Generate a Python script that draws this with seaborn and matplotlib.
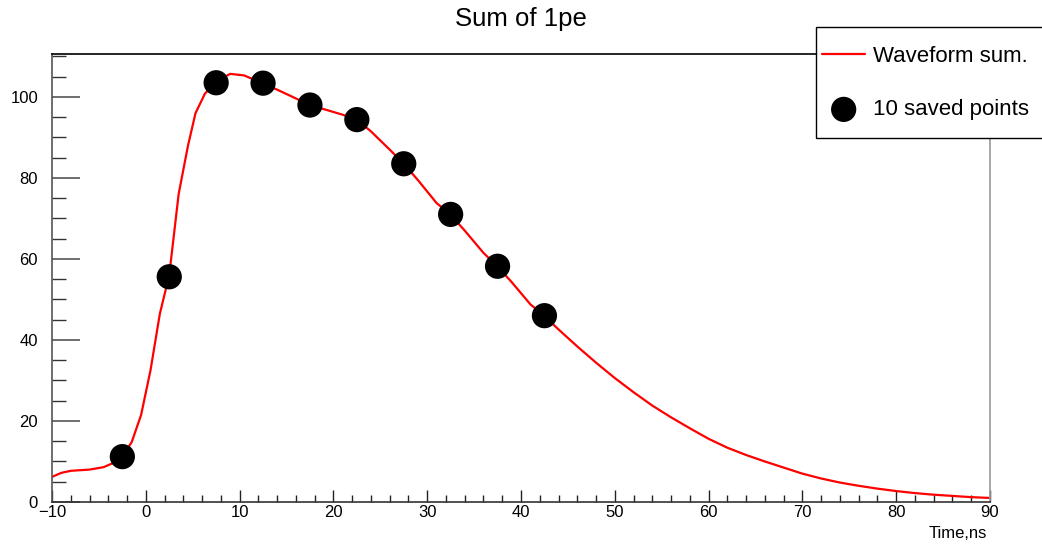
import matplotlib
matplotlib.use("Agg")
import matplotlib.pyplot as plt
from matplotlib.patches import Rectangle
from matplotlib.ticker import MultipleLocator
import seaborn as sns
import pandas as pd

# waveform sum
time_ns = [-10, -9, -8, -6, -4.5, -3.5, -2.5, -1.5, -0.5, 0.5, 1.5, 2.5, 3.5,
           4.5, 5.3, 6.3, 7.5, 9, 10.5, 12.5, 14, 17.5, 21, 22.5, 24, 26, 27.5,
           29, 31, 32.5, 34, 36, 37.5, 39, 41, 42.5, 44, 46, 48, 50, 52, 54,
           56, 58, 60, 62, 64, 66, 68, 70, 72, 74, 76, 78, 80, 82, 84, 86, 88,
           90]
amplitude = [6.2, 7.2, 7.7, 8.0, 8.6, 9.6, 11.2, 14.8, 21.5, 32.5, 46.5, 56.0,
             76.0, 88.0, 96.0, 100.8, 103.8, 105.7, 105.3, 103.3, 101.8, 98.0,
             95.6, 94.4, 91.5, 87.0, 83.5, 79.5, 73.8, 70.9, 67.0, 61.5, 58.1,
             54.3, 48.8, 45.9, 42.6, 38.4, 34.4, 30.6, 27.1, 23.8, 20.9, 18.2,
             15.6, 13.4, 11.6, 10.0, 8.5, 7.0, 5.8, 4.8, 4.0, 3.3, 2.7, 2.2,
             1.8, 1.5, 1.2, 1.0]

# the 10 saved points
saved_t = [-2.5, 2.5, 7.5, 12.5, 17.5, 22.5, 27.5, 32.5, 37.5, 42.5]
saved_v = [11.2, 55.6, 103.5, 103.4, 98.0, 94.4, 83.5, 71.0, 58.2, 46.0]

wave = pd.DataFrame({"t": time_ns, "v": amplitude})
pts = pd.DataFrame({"t": saved_t, "v": saved_v})

sns.set_theme(style="white")
plt.rcParams["font.family"] = ["Liberation Sans", "DejaVu Sans"]
plt.rcParams["text.color"] = "black"
plt.rcParams["xtick.labelcolor"] = "black"
plt.rcParams["ytick.labelcolor"] = "black"
plt.rcParams["axes.labelcolor"] = "black"

W, H = 1042, 545
fig, ax = plt.subplots(figsize=(W / 100, H / 100), dpi=100)
fig.subplots_adjust(left=52 / W, right=990 / W, bottom=43 / H, top=491 / H)

sns.lineplot(data=wave, x="t", y="v", color="red", lw=1.6, ax=ax,
             label="Waveform sum.")
sns.scatterplot(data=pts, x="t", y="v", color="black", s=330, edgecolor="none",
                ax=ax, label="10 saved points", zorder=3)

ax.set_xlim(-10, 90)
ax.set_ylim(0, 110.6)
ax.xaxis.set_major_locator(MultipleLocator(10))
ax.xaxis.set_minor_locator(MultipleLocator(2))
ax.yaxis.set_major_locator(MultipleLocator(20))
ax.yaxis.set_minor_locator(MultipleLocator(5))
ax.tick_params(axis="x", which="major", direction="in", length=8.6, width=1,
               color="#222222", labelsize=12, pad=2.5, bottom=True,
               labelcolor="black")
ax.tick_params(axis="x", which="minor", direction="in", length=5, width=1,
               color="#222222", bottom=True)
ax.tick_params(axis="y", which="major", direction="in", length=20, width=1.2,
               color="#555555", labelsize=12, pad=10, left=True,
               labelcolor="black")
ax.tick_params(axis="y", which="minor", direction="in", length=10, width=1,
               color="#333333", left=True)

for side, col in [("left", "#555555"), ("bottom", "#333333"),
                  ("top", "black"), ("right", "#999999")]:
    ax.spines[side].set_color(col)
    ax.spines[side].set_linewidth(1.2)

ax.set_ylabel("")
ax.set_xlabel("Time,ns", fontsize=12, ha="right", va="top", color="black")
ax.xaxis.set_label_coords(987 / 938 - 52 / 938, -0.053)
ax.set_title("Sum of 1pe", fontsize=18.5, pad=20.5, color="black")

# legend box overlaps the top-right corner of the frame
handles, labels = ax.get_legend_handles_labels()
ax.get_legend().remove()
box = Rectangle((816 / W, 1 - 138 / H), (1050 - 816) / W, (138 - 27) / H,
                transform=fig.transFigure, facecolor="white",
                edgecolor="black", lw=1, zorder=3)
fig.add_artist(box)
fig.legend(handles, labels, loc="upper left",
           bbox_to_anchor=(822 / W, 1 - 46 / H), frameon=False, fontsize=16,
           borderpad=0, borderaxespad=0, handlelength=1.95,
           handletextpad=0.36, labelspacing=1.45, labelcolor="black")

fig.savefig("out.png", dpi=100)
